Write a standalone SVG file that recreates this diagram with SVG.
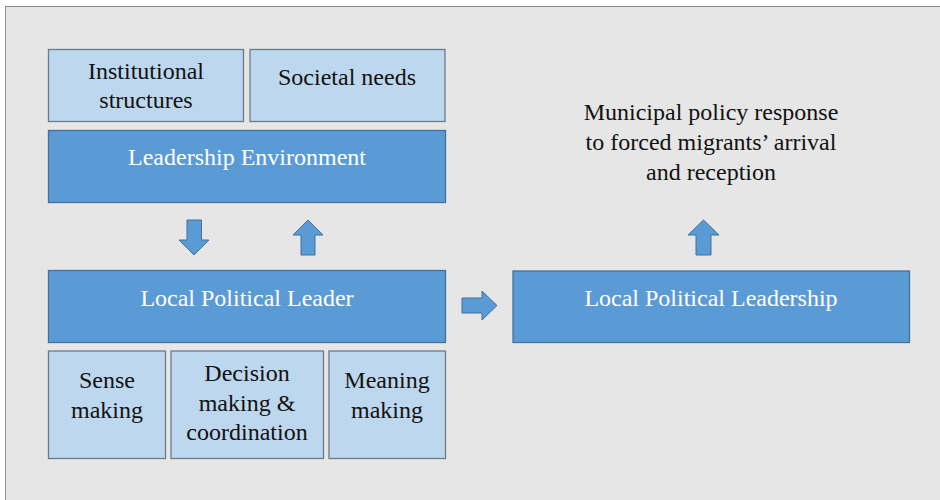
<svg xmlns="http://www.w3.org/2000/svg" width="940" height="500" viewBox="0 0 940 500">
<style>
.bg{fill:#e6e6e6;stroke:#8c8c8c;stroke-width:1}
.lt{fill:#bdd7ee;stroke:#6b7b8c;stroke-width:1.3}
.dk{fill:#5b9bd5;stroke:#41719c;stroke-width:1.3}
.ar{fill:#5b9bd5;stroke:#41719c;stroke-width:1}
.b{fill:#111}
.w{fill:#ffffff}
</style>
<rect class="bg" x="5.5" y="6.5" width="940" height="500"/>
<g id="institutional">
<rect class="lt" x="48.5" y="49.5" width="195" height="72"/>
<text class="b" font-family="Liberation Serif" font-size="24" text-anchor="middle" x="146" y="79">Institutional</text>
<text class="b" font-family="Liberation Serif" font-size="24" text-anchor="middle" x="146" y="108">structures</text>
</g>
<g id="societal">
<rect class="lt" x="250" y="49.5" width="195" height="72"/>
<text class="b" font-family="Liberation Serif" font-size="24" text-anchor="middle" x="347" y="85">Societal needs</text>
</g>
<g id="environment">
<rect class="dk" x="48.5" y="130.5" width="397" height="72"/>
<text class="w" font-family="Liberation Serif" font-size="24" text-anchor="middle" x="247" y="165">Leadership Environment</text>
</g>
<g id="leader">
<rect class="dk" x="48.5" y="270.5" width="397" height="72"/>
<text class="w" font-family="Liberation Serif" font-size="24" text-anchor="middle" x="247" y="306">Local Political Leader</text>
</g>
<g id="sense">
<rect class="lt" x="48.5" y="351" width="117" height="107.5"/>
<text class="b" font-family="Liberation Serif" font-size="24" text-anchor="middle" x="107" y="388">Sense</text>
<text class="b" font-family="Liberation Serif" font-size="24" text-anchor="middle" x="107" y="418">making</text>
</g>
<g id="decision">
<rect class="lt" x="171" y="351" width="152.5" height="107.5"/>
<text class="b" font-family="Liberation Serif" font-size="24" text-anchor="middle" x="247" y="381">Decision</text>
<text class="b" font-family="Liberation Serif" font-size="24" text-anchor="middle" x="247" y="411">making &amp;</text>
<text class="b" font-family="Liberation Serif" font-size="24" text-anchor="middle" x="247" y="440">coordination</text>
</g>
<g id="meaning">
<rect class="lt" x="329" y="351" width="116.5" height="107.5"/>
<text class="b" font-family="Liberation Serif" font-size="24" text-anchor="middle" x="387" y="388">Meaning</text>
<text class="b" font-family="Liberation Serif" font-size="24" text-anchor="middle" x="387" y="418">making</text>
</g>
<g id="leadership">
<rect class="dk" x="513" y="271" width="396.5" height="71.5"/>
<text class="w" font-family="Liberation Serif" font-size="24" text-anchor="middle" x="711" y="306">Local Political Leadership</text>
</g>
<g id="response">
<text class="b" font-family="Liberation Serif" font-size="24" text-anchor="middle" x="711" y="120">Municipal policy response</text>
<text class="b" font-family="Liberation Serif" font-size="24" text-anchor="middle" x="711" y="150">to forced migrants’ arrival</text>
<text class="b" font-family="Liberation Serif" font-size="24" text-anchor="middle" x="711" y="180">and reception</text>
</g>
<g id="connectors">
<polygon class="ar" points="187,220 201.5,220 201.5,240 209,240 194,255 179,240 187,240"/>
<polygon class="ar" points="308,220 323,235 315,235 315,255 301,255 301,235 293,235"/>
<polygon class="ar" points="462,298 482,298 482,291 497,305.5 482,320 482,313 462,313"/>
<polygon class="ar" points="703.5,220 719,235 711,235 711,255 696,255 696,235 688,235"/>
</g>
</svg>
